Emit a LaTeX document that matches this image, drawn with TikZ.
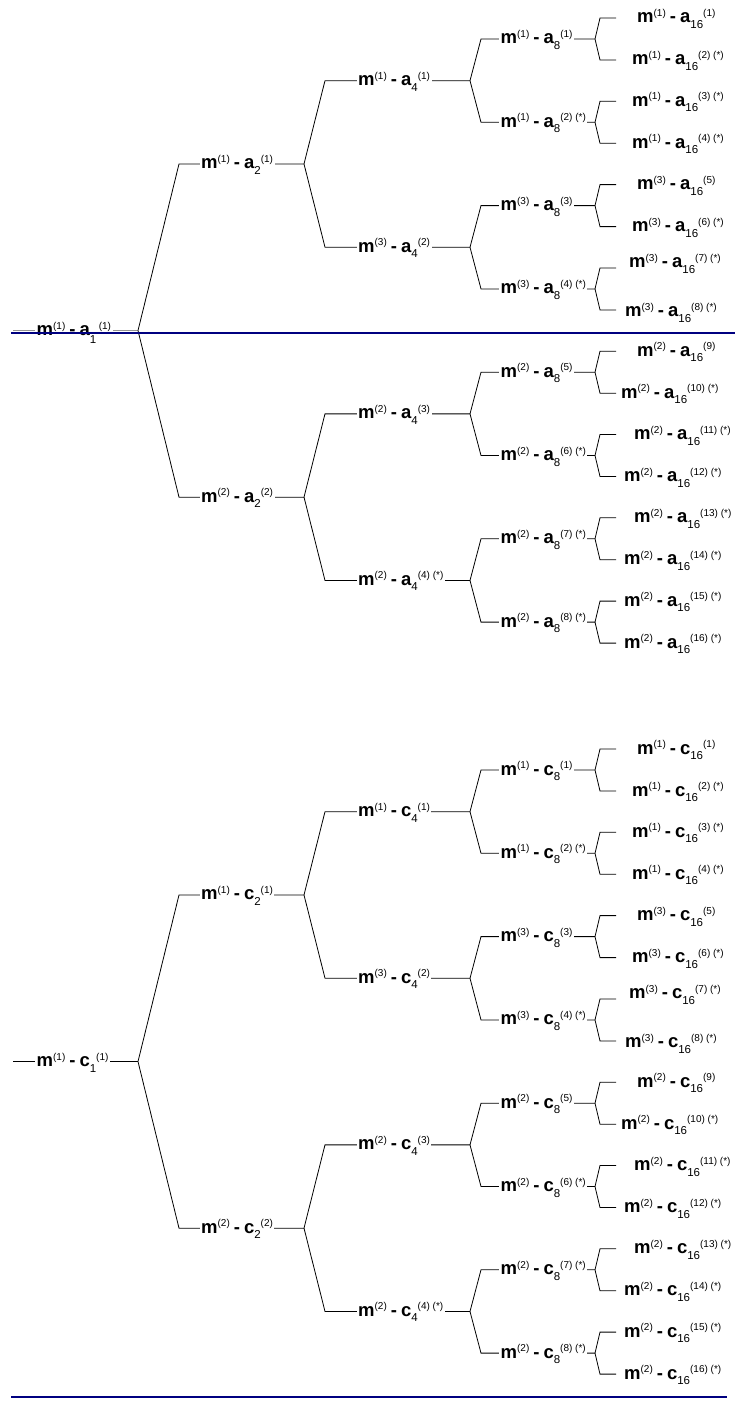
\documentclass[tikz,border=0pt]{standalone}
\usepackage{fontspec}
\setmainfont{Liberation Sans}
\definecolor{navyline}{RGB}{0,0,128}
\newcommand{\supr}[1]{\raisebox{6.5pt}{\fontsize{10}{10}\selectfont #1}}
\newcommand{\subr}[1]{\raisebox{-5.5pt}{\fontsize{11.5}{11.5}\selectfont #1}}
\newcommand{\strk}{\ (*)}
\newcommand{\dsh}{\hspace{4pt}\textbf{-}\hspace{4pt}}
\newcommand{\Nlab}[5]{\textbf{m}\supr{(#1)}\dsh\textbf{#2}\subr{#3}\supr{(#4)\ifnum#5=1 \strk\fi}}
\newcommand{\RootA}{\textbf{m}\supr{(1)}\dsh\textbf{a}\raisebox{-8pt}{\fontsize{11.5}{11.5}\selectfont 1}\hspace{2.5pt}\supr{(1)}}
\begin{document}
\begin{tikzpicture}[x=1pt,y=-1pt,
  lbl/.style={anchor=base west, inner xsep=1.5pt, inner ysep=0pt, fill=white, font=\fontsize{18.5}{18.5}\selectfont},
  branch/.style={draw=black, line width=0.8pt},
  rootgray/.style={draw=gray!85, line width=1.5pt},
  sepline/.style={draw=navyline, line width=2pt},
  septhin/.style={draw=navyline, line width=1.6pt}]
\useasboundingbox (0,0) rectangle (738,1405);

\foreach \L/\oy/\rt in {a/0/0, c/731/1}{
  % level 0
  \pgfmathsetmacro\yy{330.55+\oy}
  \coordinate (\L-0-1-s) at (13,\yy);
  \coordinate (\L-0-1-e) at (138,\yy);
  \ifnum\rt=0
    \draw[rootgray] (\L-0-1-s) -- (\L-0-1-e);
    \node[lbl] (\L-0-1) at (35,\yy+5) {\RootA};
  \else
    \draw[branch] (\L-0-1-s) -- (\L-0-1-e);
    \node[lbl] (\L-0-1) at (35,\yy+5) {\Nlab{1}{\L}{1}{1}{0}};
  \fi
  % level 1
  \foreach \i/\m/\n in {1/1/1, 2/2/2}{
    \pgfmathsetmacro\yy{39+83.3*(4*\i-2.5)+\oy}
    \coordinate (\L-1-\i-s) at (179,\yy);
    \coordinate (\L-1-\i-e) at (304,\yy);
    \draw[branch] (\L-0-1-e) -- (\L-1-\i-s) -- (\L-1-\i-e);
    \node[lbl] (\L-1-\i) at (199.5,\yy+5) {\Nlab{\m}{\L}{2}{\n}{0}};
  }
  % level 2
  \foreach \j/\m/\n/\s in {1/1/1/0, 2/3/2/0, 3/2/3/0, 4/2/4/1}{
    \pgfmathsetmacro\yy{39+83.3*(2*\j-1.5)+\oy}
    \pgfmathtruncatemacro\p{(\j+1)/2}
    \coordinate (\L-2-\j-s) at (325,\yy);
    \coordinate (\L-2-\j-e) at (470,\yy);
    \draw[branch] (\L-1-\p-e) -- (\L-2-\j-s) -- (\L-2-\j-e);
    \node[lbl] (\L-2-\j) at (356.5,\yy+5) {\Nlab{\m}{\L}{4}{\n}{\s}};
  }
  % level 3
  \foreach \k/\m/\s in {1/1/0, 2/1/1, 3/3/0, 4/3/1, 5/2/0, 6/2/1, 7/2/1, 8/2/1}{
    \pgfmathsetmacro\yy{39+83.3*(\k-1)+\oy}
    \pgfmathtruncatemacro\p{(\k+1)/2}
    \coordinate (\L-3-\k-s) at (481,\yy);
    \coordinate (\L-3-\k-e) at (595,\yy);
    \draw[branch] (\L-2-\p-e) -- (\L-3-\k-s) -- (\L-3-\k-e);
    \node[lbl] (\L-3-\k) at (499,\yy+5) {\Nlab{\m}{\L}{8}{\k}{\s}};
  }
  % leaves
  \foreach \q/\m/\s/\tx/\dy in {1/1/0/637/0, 2/1/1/632/0, 3/1/1/632/0, 4/1/1/632/0,
      5/3/0/637/0, 6/3/1/632/0, 7/3/1/629/-5, 8/3/1/625/2,
      9/2/0/637/0, 10/2/1/621/0, 11/2/1/634/0, 12/2/1/624/0,
      13/2/1/634/0, 14/2/1/624/0, 15/2/1/624/0, 16/2/1/624/0}{
    \pgfmathtruncatemacro\p{(\q+1)/2}
    \pgfmathtruncatemacro\ev{1-mod(\q,2)}
    \pgfmathsetmacro\yy{39+83.3*(\p-1)-21+42*\ev+\oy}
    \coordinate (\L-4-\q-s) at (600,\yy);
    \coordinate (\L-4-\q-e) at (616,\yy);
    \draw[branch] (\L-3-\p-e) -- (\L-4-\q-s) -- (\L-4-\q-e);
    \node[lbl] (\L-4-\q) at (\tx-1.5,\yy+5+\dy) {\Nlab{\m}{\L}{16}{\q}{\s}};
  }
}

% separator lines
\coordinate (sepAL) at (11,333);
\coordinate (sepAR) at (735,333);
\coordinate (sepBL) at (11,1397);
\coordinate (sepBR) at (727,1397);
\draw[sepline] (sepAL) -- (sepAR);
\draw[septhin] (sepBL) -- (sepBR);
\end{tikzpicture}
\end{document}
